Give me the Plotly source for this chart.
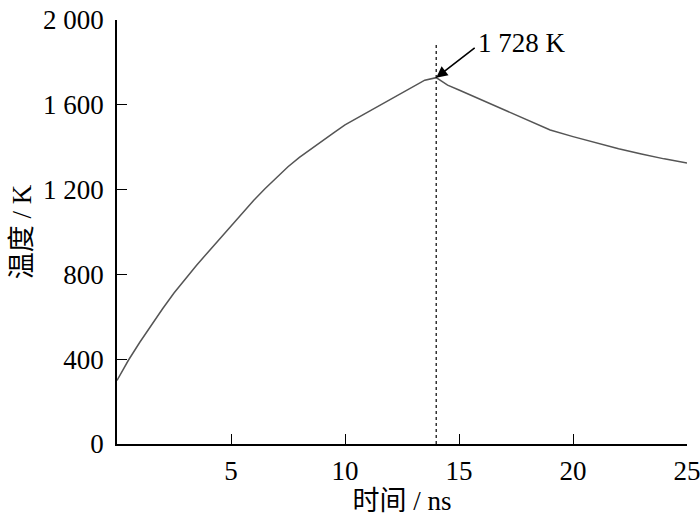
import plotly.graph_objects as go

time_ns = [0, 0.5, 1, 1.5, 2, 2.5, 3, 3.5, 4, 4.5, 5, 5.5, 6, 6.5, 7, 7.5, 8, 8.5, 9, 9.5,
           10, 11, 12, 13, 13.5, 14, 14.5, 15, 16, 17, 18, 19, 20, 21, 22, 23, 24, 25]
temp_K = [300, 395, 480, 560, 638, 712, 780, 844, 906, 968, 1030, 1090, 1150, 1205, 1258, 1308,
          1352, 1392, 1430, 1468, 1505, 1565, 1625, 1688, 1716, 1728, 1693, 1670, 1622, 1575,
          1528, 1481, 1450, 1420, 1393, 1368, 1345, 1326]
peak_t = 14
peak_T = 1728
y_ticks = [0, 400, 800, 1200, 1600, 2000]
x_ticks = [5, 10, 15, 20, 25]

font_main = "Liberation Serif, Times New Roman, Noto Sans CJK SC, serif"
fs = 27

fig = go.Figure()
fig.add_trace(go.Scatter(x=time_ns, y=temp_K, mode="lines",
                         line=dict(color="#555555", width=1.5), showlegend=False))
fig.add_trace(go.Scatter(x=[peak_t, peak_t], y=[0, 1896], mode="lines",
                         line=dict(color="black", width=1.2, dash="dot"), showlegend=False))

fig.add_annotation(x=peak_t, y=peak_T, xref="x", yref="y", text="", showarrow=True,
                   ax=40, ay=-31, arrowhead=2, arrowsize=1.4, arrowwidth=1.6,
                   arrowcolor="black", standoff=0)
fig.add_annotation(x=15.75, y=1891, xref="x", yref="y", text="1 728 K", showarrow=False,
                   xanchor="left", yanchor="middle", font=dict(family=font_main, size=fs, color="black"))

fig.update_layout(
    width=700, height=521,
    margin=dict(l=117, r=13, t=20, b=77),
    plot_bgcolor="white", paper_bgcolor="white",
    separators=". ",
    font=dict(family=font_main, size=fs, color="black"),
)
fig.update_xaxes(range=[0, 25], tickvals=x_ticks, ticks="inside", ticklen=10, tickwidth=1.2,
                 tickcolor="black", showline=True, linecolor="black", linewidth=1.5,
                 showgrid=False, zeroline=False, automargin=False, ticklabelstandoff=2,
                 ticklabeloverflow="allow",
                 title=dict(text="时间 / ns", standoff=4, font=dict(family=font_main, size=fs)))
fig.update_yaxes(range=[0, 2000], tickvals=y_ticks, tickformat=",d", ticks="inside", ticklen=10,
                 tickwidth=1.2, tickcolor="black", showline=True, linecolor="black", linewidth=1.5,
                 showgrid=False, zeroline=False, automargin=False, ticklabelstandoff=6,
                 ticklabeloverflow="allow",
                 title=dict(text="温度 / K", standoff=4, font=dict(family=font_main, size=fs)))

fig.write_html("out.html", config={"displayModeBar": False},
               post_script="document.body.style.margin='0px';")
